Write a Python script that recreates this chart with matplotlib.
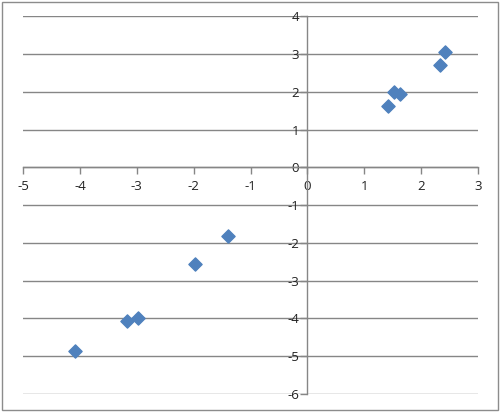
import matplotlib.pyplot as plt
from matplotlib.patches import Rectangle

# values
x_vals = [-4.09, -3.18, -2.97, -1.97, -1.39, 1.42, 1.53, 1.63, 2.33, 2.42]
y_vals = [-4.86, -4.07, -3.98, -2.55, -1.81, 1.62, 1.99, 1.94, 2.72, 3.05]
x_ticks = [-5, -4, -3, -2, -1, 0, 1, 2, 3]
y_ticks = [-6, -5, -4, -3, -2, -1, 0, 1, 2, 3, 4]

grey = '#868686'
plt.rcParams['font.family'] = ['Open Sans', 'DejaVu Sans']
plt.rcParams['axes.unicode_minus'] = False

fig = plt.figure(figsize=(5, 4.12), dpi=100)
ax = fig.add_axes([0.046, 0.0437, 0.91, 0.9163])

ax.scatter(x_vals, y_vals, marker='D', s=45, color='#4F81BD', zorder=3)

ax.set_xlim(-5, 3)
ax.set_ylim(-6, 4)
ax.set_xticks(x_ticks)
ax.set_yticks(y_ticks)
ax.yaxis.grid(True, color=grey, linewidth=1)
ax.set_axisbelow(True)

ax.spines['left'].set_position(('data', 0))
ax.spines['bottom'].set_position(('data', 0))
for s in ['top', 'right']:
    ax.spines[s].set_visible(False)
for s in ['left', 'bottom']:
    ax.spines[s].set_color(grey)
    ax.spines[s].set_linewidth(1)

ax.tick_params(axis='both', colors=grey, labelcolor='#222222', labelsize=9.5,
               length=5, width=1, direction='out')
ax.tick_params(axis='y', pad=1)
ax.tick_params(axis='x', pad=4)

fig.patches.append(Rectangle((0.003, 0.004), 0.993, 0.992, transform=fig.transFigure,
                             fill=False, edgecolor='#8C8C8C', linewidth=1))

plt.savefig('out.png', dpi=100)
